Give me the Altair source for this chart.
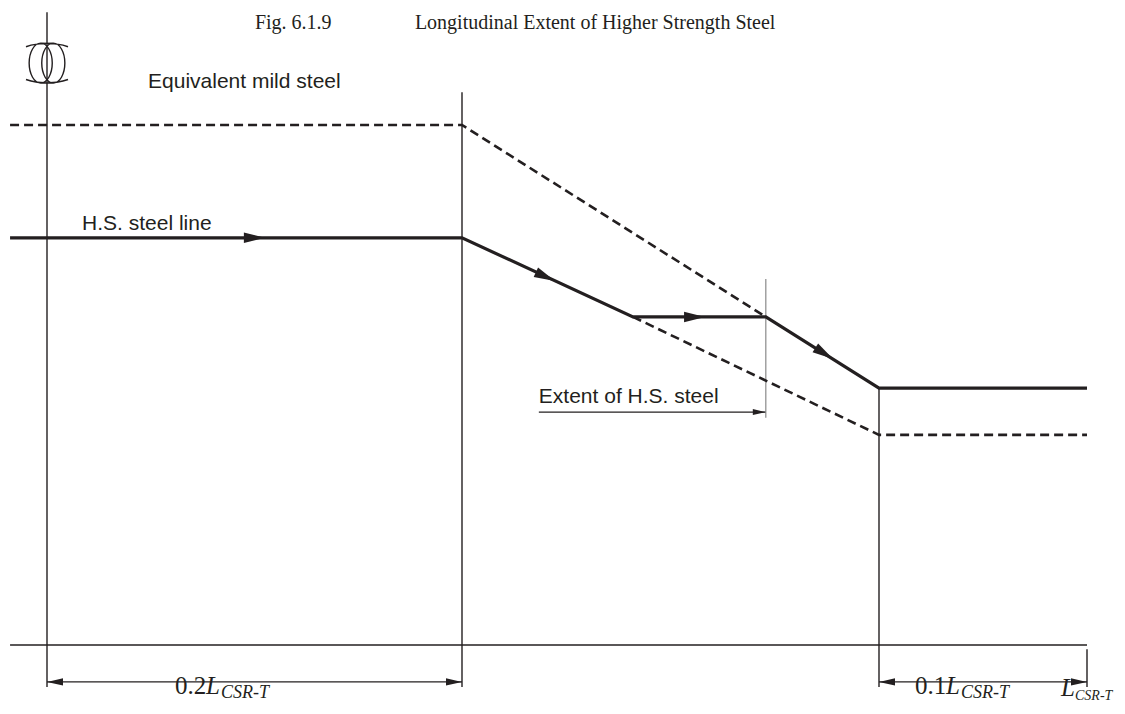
import altair as alt
import pandas as pd

# ---- data (x in ship-length units on a schematic scale, y in relative section-modulus units) ----
hs_x = [-0.0178, 0.2, 0.487, 0.710, 0.9, 1.0]
hs_y = [0.783, 0.783, 0.631, 0.631, 0.494, 0.494]

mild_x = [-0.0178, 0.2, 0.710]
mild_y = [1.0, 1.0, 0.631]

lower_x = [0.487, 0.9, 1.0]
lower_y = [0.631, 0.404, 0.404]

frame_x1 = [-0.0178, 0.0, 0.2, 0.9, 1.0]
frame_y1 = [0.0, 1.217, 1.063, 0.494, -0.008]
frame_x2 = [1.0, 0.0, 0.2, 0.9, 1.0]
frame_y2 = [0.0, -0.081, -0.081, -0.081, -0.081]

dim_x1 = [0.0, 0.9, 0.329]
dim_y1 = [-0.071, -0.071, 0.448]
dim_x2 = [0.2, 1.0, 0.710]
dim_y2 = [-0.071, -0.071, 0.448]

extent_x = [0.710]
extent_y1 = [0.704]
extent_y2 = [0.437]

flow_arrow_x = [0.105, 0.356, 0.608, 0.823]
flow_arrow_y = [0.783, 0.700, 0.631, 0.550]
flow_arrow_angle = [0, 24.8, 0, 32.1]

dim_arrow_x = [0.0, 0.2, 0.9, 1.0, 0.710]
dim_arrow_y = [-0.071, -0.071, -0.071, -0.071, 0.448]
dim_arrow_angle = [180, 0, 180, 0, 0]
dim_arrow_size = [256, 256, 256, 256, 169]

note_x = [0.0487, 0.0169, 0.329]
note_y = [1.071, 0.798, 0.465]
note_text = ["Equivalent mild steel", "H.S. steel line", "Extent of H.S. steel"]

lab_x = [0.0617, 0.9173]
lab_y = [-0.094, -0.094]
lab_num = ["0.2", "0.1"]

end_x = [0.9875]
end_y = [-0.098]

title_x = [0.1002, 0.1773]
title_y = [1.185, 1.185]
title_text = ["Fig. 6.1.9", "Longitudinal Extent of Higher Strength Steel"]

sym_x = [0.0]
sym_y = [1.119]

# ---- scales ----
INK = "#231f20"
XS = alt.Scale(domain=[0, 0.2, 0.9, 1.0], range=[39, 454, 871, 1079], nice=False, zero=False)
YS = alt.Scale(domain=[0, 1], range=[637, 117], nice=False, zero=False)


def X(f):
    return alt.X(f, type="quantitative", scale=XS, axis=None)


def Y(f):
    return alt.Y(f, type="quantitative", scale=YS, axis=None)


frame = pd.DataFrame({"x": frame_x1, "y": frame_y1, "x2": frame_x2, "y2": frame_y2})
dims = pd.DataFrame({"x": dim_x1, "y": dim_y1, "x2": dim_x2, "y2": dim_y2})
extent = pd.DataFrame({"x": extent_x, "y": extent_y1, "y2": extent_y2})
hs = pd.DataFrame({"x": hs_x, "y": hs_y, "i": range(len(hs_x))})
mild = pd.DataFrame({"x": mild_x, "y": mild_y, "i": range(len(mild_x))})
lower = pd.DataFrame({"x": lower_x, "y": lower_y, "i": range(len(lower_x))})
flow_arrows = pd.DataFrame({"x": flow_arrow_x, "y": flow_arrow_y, "a": flow_arrow_angle})
dim_arrows = pd.DataFrame({"x": dim_arrow_x, "y": dim_arrow_y, "a": dim_arrow_angle, "s": dim_arrow_size})
notes = pd.DataFrame({"x": note_x, "y": note_y, "t": note_text})
labs = pd.DataFrame({"x": lab_x, "y": lab_y, "t": lab_num})
ends = pd.DataFrame({"x": end_x, "y": end_y})
titles = pd.DataFrame({"x": title_x, "y": title_y, "t": title_text})
sym = pd.DataFrame({"x": sym_x, "y": sym_y})

ARROW = "M 0 0 L -2 -0.5 L -2 0.5 Z"
DIM_ARROW = "M 0 0 L -2 -0.45 L -2 0.45 Z"
SYMBOL = (
    "M -0.85 0 C -0.85 -0.525 -0.604 -0.95 -0.3 -0.95 C 0.004 -0.95 0.25 -0.525 0.25 0 "
    "C 0.25 0.525 0.004 0.95 -0.3 0.95 C -0.604 0.95 -0.85 0.525 -0.85 0 Z "
    "M -0.25 0 C -0.25 -0.525 -0.004 -0.95 0.3 -0.95 C 0.604 -0.95 0.85 -0.525 0.85 0 "
    "C 0.85 0.525 0.604 0.95 0.3 0.95 C -0.004 0.95 -0.25 0.525 -0.25 0 Z "
    "M -0.3 -0.95 C 0.2 -0.95 0.7 -0.9 1 -0.78 "
    "M 0.3 -0.95 C -0.2 -0.95 -0.7 -0.9 -1 -0.78 "
    "M -0.3 0.95 C 0.2 0.95 0.7 0.9 1 0.78 "
    "M 0.3 0.95 C -0.2 0.95 -0.7 0.9 -1 0.78"
)

layers = []

layers.append(alt.Chart(frame).mark_rule(color=INK, strokeWidth=1.4).encode(
    x=X("x"), y=Y("y"), x2=alt.X2("x2"), y2=alt.Y2("y2")))
layers.append(alt.Chart(dims).mark_rule(color=INK, strokeWidth=1.2).encode(
    x=X("x"), y=Y("y"), x2=alt.X2("x2"), y2=alt.Y2("y2")))
layers.append(alt.Chart(extent).mark_rule(color="#8a8a8a", strokeWidth=1.2).encode(
    x=X("x"), y=Y("y"), y2=alt.Y2("y2")))
layers.append(alt.Chart(mild).mark_line(color=INK, strokeWidth=2.6, strokeDash=[9, 5]).encode(
    x=X("x"), y=Y("y"), order="i:Q"))
layers.append(alt.Chart(lower).mark_line(color=INK, strokeWidth=2.6, strokeDash=[9, 5]).encode(
    x=X("x"), y=Y("y"), order="i:Q"))
layers.append(alt.Chart(hs).mark_line(color=INK, strokeWidth=3.2).encode(
    x=X("x"), y=Y("y"), order="i:Q"))
layers.append(alt.Chart(flow_arrows).mark_point(
    shape=ARROW, filled=True, color=INK, opacity=1, size=441, strokeWidth=0).encode(
    x=X("x"), y=Y("y"), angle=alt.Angle("a:Q", scale=None)))
layers.append(alt.Chart(dim_arrows).mark_point(
    shape=DIM_ARROW, filled=True, color=INK, opacity=1, strokeWidth=0).encode(
    x=X("x"), y=Y("y"), angle=alt.Angle("a:Q", scale=None), size=alt.Size("s:Q", scale=None)))
layers.append(alt.Chart(sym).mark_point(
    shape=SYMBOL, filled=False, color=INK, opacity=1, size=1764, strokeWidth=1.4).encode(
    x=X("x"), y=Y("y")))

SANS = "Liberation Sans"
SERIF = "Liberation Serif"

layers.append(alt.Chart(notes).mark_text(
    font=SANS, fontSize=21, align="left", baseline="alphabetic", color=INK).encode(
    x=X("x"), y=Y("y"), text="t:N"))
layers.append(alt.Chart(labs).mark_text(
    font=SERIF, fontSize=25, align="left", baseline="alphabetic", color=INK).encode(
    x=X("x"), y=Y("y"), text="t:N"))
layers.append(alt.Chart(labs).mark_text(
    font=SERIF, fontSize=25, fontStyle="italic", align="left", baseline="alphabetic",
    color=INK, dx=31).encode(x=X("x"), y=Y("y"), text=alt.value("L")))
layers.append(alt.Chart(labs).mark_text(
    font=SERIF, fontSize=18, fontStyle="italic", align="left", baseline="alphabetic",
    color=INK, dx=46, dy=4).encode(x=X("x"), y=Y("y"), text=alt.value("CSR-T")))
layers.append(alt.Chart(ends).mark_text(
    font=SERIF, fontSize=25, fontStyle="italic", align="left", baseline="alphabetic",
    color=INK).encode(x=X("x"), y=Y("y"), text=alt.value("L")))
layers.append(alt.Chart(ends).mark_text(
    font=SERIF, fontSize=14, fontStyle="italic", align="left", baseline="alphabetic",
    color=INK, dx=14, dy=4).encode(x=X("x"), y=Y("y"), text=alt.value("CSR-T")))
layers.append(alt.Chart(titles).mark_text(
    font=SERIF, fontSize=20, align="left", baseline="alphabetic", color=INK).encode(
    x=X("x"), y=Y("y"), text="t:N"))

chart = alt.layer(*layers).properties(
    width=1109, height=694,
    autosize=alt.AutoSizeParams(type="none"),
    padding=0,
    background="white",
).configure_view(stroke=None)

chart.save("out.html", embed_options={"renderer": "svg", "actions": False})
